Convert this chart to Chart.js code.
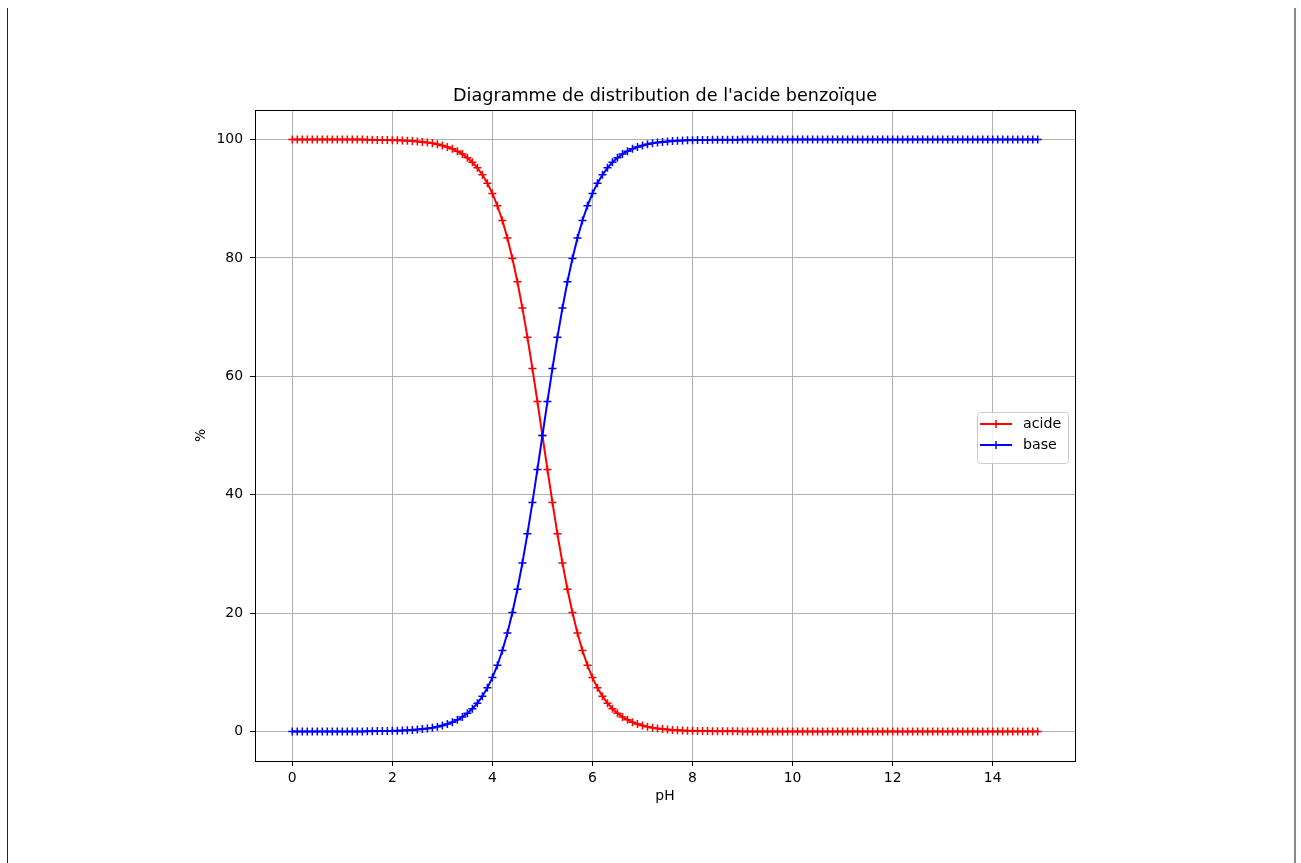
<!DOCTYPE html>
<html>
<head>
<meta charset="utf-8">
<script src="https://cdn.jsdelivr.net/npm/chart.js@4.4.0/dist/chart.umd.min.js"></script>
<style>
    body { margin: 0; background: #fff; }
    #wrap { position: relative; width: 1301px; height: 863px; overflow: hidden; }
    .edge-left { position: absolute; left: 7px; top: 8px; width: 1px; height: 855px; background: #222; }
    .edge-right { position: absolute; left: 1294px; top: 8px; width: 2px; height: 855px; background: #888; }
    canvas { position: absolute; left: 0; top: 0; }
</style>
</head>
<body>
<div id="wrap">
    <div class="edge-left"></div>
    <div class="edge-right"></div>
    <canvas id="chart" width="1301" height="863"></canvas>
</div>
<script>
const phValues = [
    0.0, 0.1, 0.2, 0.3, 0.4, 0.5, 0.6, 0.7, 0.8, 0.9,
    1.0, 1.1, 1.2, 1.3, 1.4, 1.5, 1.6, 1.7, 1.8, 1.9,
    2.0, 2.1, 2.2, 2.3, 2.4, 2.5, 2.6, 2.7, 2.8, 2.9,
    3.0, 3.1, 3.2, 3.3, 3.4, 3.5, 3.6, 3.7, 3.8, 3.9,
    4.0, 4.1, 4.2, 4.3, 4.4, 4.5, 4.6, 4.7, 4.8, 4.9,
    5.0, 5.1, 5.2, 5.3, 5.4, 5.5, 5.6, 5.7, 5.8, 5.9,
    6.0, 6.1, 6.2, 6.3, 6.4, 6.5, 6.6, 6.7, 6.8, 6.9,
    7.0, 7.1, 7.2, 7.3, 7.4, 7.5, 7.6, 7.7, 7.8, 7.9,
    8.0, 8.1, 8.2, 8.3, 8.4, 8.5, 8.6, 8.7, 8.8, 8.9,
    9.0, 9.1, 9.2, 9.3, 9.4, 9.5, 9.6, 9.7, 9.8, 9.9,
    10.0, 10.1, 10.2, 10.3, 10.4, 10.5, 10.6, 10.7, 10.8, 10.9,
    11.0, 11.1, 11.2, 11.3, 11.4, 11.5, 11.6, 11.7, 11.8, 11.9,
    12.0, 12.1, 12.2, 12.3, 12.4, 12.5, 12.6, 12.7, 12.8, 12.9,
    13.0, 13.1, 13.2, 13.3, 13.4, 13.5, 13.6, 13.7, 13.8, 13.9,
    14.0, 14.1, 14.2, 14.3, 14.4, 14.5, 14.6, 14.7, 14.8, 14.9
];

const acide = [
    100, 100, 100, 100, 100, 100, 100, 100, 100, 100,
    100, 100, 100, 100, 100, 99.97, 99.96, 99.95, 99.94, 99.92,
    99.90, 99.87, 99.84, 99.80, 99.75, 99.68, 99.60, 99.50, 99.37, 99.21,
    99.01, 98.76, 98.44, 98.04, 97.55, 96.93, 96.17, 95.23, 94.06, 92.64,
    90.91, 88.82, 86.32, 83.37, 79.92, 75.97, 71.53, 66.61, 61.31, 55.73,
    50.00, 44.27, 38.69, 33.39, 28.47, 24.03, 20.08, 16.63, 13.68, 11.18,
    9.09, 7.36, 5.94, 4.77, 3.83, 3.07, 2.45, 1.96, 1.56, 1.24,
    0.99, 0.79, 0.63, 0.50, 0.40, 0.32, 0.25, 0.20, 0.16, 0.13,
    0.10, 0.08, 0.06, 0.05, 0.04, 0.03, 0.03, 0.02, 0.02, 0.01,
    0, 0, 0, 0, 0, 0, 0, 0, 0, 0,
    0, 0, 0, 0, 0, 0, 0, 0, 0, 0,
    0, 0, 0, 0, 0, 0, 0, 0, 0, 0,
    0, 0, 0, 0, 0, 0, 0, 0, 0, 0,
    0, 0, 0, 0, 0, 0, 0, 0, 0, 0,
    0, 0, 0, 0, 0, 0, 0, 0, 0, 0
];

const base = [
    0, 0, 0, 0, 0, 0, 0, 0, 0, 0,
    0, 0, 0, 0, 0, 0.03, 0.04, 0.05, 0.06, 0.08,
    0.10, 0.13, 0.16, 0.20, 0.25, 0.32, 0.40, 0.50, 0.63, 0.79,
    0.99, 1.24, 1.56, 1.96, 2.45, 3.07, 3.83, 4.77, 5.94, 7.36,
    9.09, 11.18, 13.68, 16.63, 20.08, 24.03, 28.47, 33.39, 38.69, 44.27,
    50.00, 55.73, 61.31, 66.61, 71.53, 75.97, 79.92, 83.37, 86.32, 88.82,
    90.91, 92.64, 94.06, 95.23, 96.17, 96.93, 97.55, 98.04, 98.44, 98.76,
    99.01, 99.21, 99.37, 99.50, 99.60, 99.68, 99.75, 99.80, 99.84, 99.87,
    99.90, 99.92, 99.94, 99.95, 99.96, 99.97, 99.97, 99.98, 99.98, 99.99,
    100, 100, 100, 100, 100, 100, 100, 100, 100, 100,
    100, 100, 100, 100, 100, 100, 100, 100, 100, 100,
    100, 100, 100, 100, 100, 100, 100, 100, 100, 100,
    100, 100, 100, 100, 100, 100, 100, 100, 100, 100,
    100, 100, 100, 100, 100, 100, 100, 100, 100, 100,
    100, 100, 100, 100, 100, 100, 100, 100, 100, 100
];

const xTicks = [0, 2, 4, 6, 8, 10, 12, 14];
const yTicks = [0, 20, 40, 60, 80, 100];
const titleText = "Diagramme de distribution de l'acide benzoïque";

const FONT = '"DejaVu Sans", sans-serif';
const tickFont = { family: FONT, size: 13.9 };

const toPoints = (ys) => phValues.map((x, i) => ({ x: x, y: ys[i] }));

// spines + title, drawn like matplotlib
const framePlugin = {
    id: 'frame',
    afterDatasetsDraw(chart) {
        const { ctx, chartArea: a } = chart;
        ctx.save();
        ctx.strokeStyle = '#000';
        ctx.lineWidth = 1;
        ctx.strokeRect(a.left + 0.5, a.top + 0.5, a.right - a.left, a.bottom - a.top);
        ctx.restore();
    },
    afterDraw(chart) {
        const { ctx, chartArea: a } = chart;
        ctx.save();
        ctx.fillStyle = '#000';
        ctx.font = '17.6px ' + FONT;
        ctx.textAlign = 'center';
        ctx.textBaseline = 'alphabetic';
        ctx.fillText(titleText, (a.left + a.right) / 2, 101);
        ctx.restore();
    }
};

const legendPlugin = {
    id: 'boxLegend',
    afterDraw(chart) {
        const { ctx } = chart;
        const sets = chart.data.datasets;
        const left = 977, top = 412, w = 91, h = 51;
        ctx.save();
        ctx.beginPath();
        ctx.roundRect(left + 0.5, top + 0.5, w, h, 3);
        ctx.fillStyle = 'rgba(255,255,255,0.8)';
        ctx.fill();
        ctx.strokeStyle = '#cccccc';
        ctx.lineWidth = 1;
        ctx.stroke();
        ctx.font = '14.2px ' + FONT;
        ctx.textBaseline = 'middle';
        ctx.textAlign = 'left';
        sets.forEach((ds, i) => {
            const y = 424 + i * 21;
            ctx.strokeStyle = ds.borderColor;
            ctx.lineWidth = 2;
            ctx.beginPath();
            ctx.moveTo(980, y);
            ctx.lineTo(1012, y);
            ctx.stroke();
            ctx.lineWidth = 1.5;
            ctx.beginPath();
            ctx.moveTo(996, y - 4);
            ctx.lineTo(996, y + 4);
            ctx.stroke();
            ctx.fillStyle = '#000';
            ctx.fillText(ds.label, 1023, y);
        });
        ctx.restore();
    }
};

const chartCanvas = document.getElementById('chart');

new Chart(chartCanvas, {
    type: 'line',
    data: {
        datasets: [
            {
                label: 'acide',
                data: toPoints(acide),
                borderColor: 'red',
                backgroundColor: 'red',
                borderWidth: 2,
                pointStyle: 'cross',
                pointRadius: 4,
                pointBorderWidth: 1.5,
                pointBorderColor: 'red',
                fill: false,
                tension: 0,
                order: 2
            },
            {
                label: 'base',
                data: toPoints(base),
                borderColor: 'blue',
                backgroundColor: 'blue',
                borderWidth: 2,
                pointStyle: 'cross',
                pointRadius: 4,
                pointBorderWidth: 1.5,
                pointBorderColor: 'blue',
                fill: false,
                tension: 0,
                order: 1
            }
        ]
    },
    options: {
        responsive: false,
        animation: false,
        devicePixelRatio: 1,
        layout: { padding: { top: 110, right: 226, bottom: 0, left: 0 } },
        plugins: {
            legend: { display: false },
            title: { display: false },
            tooltip: { enabled: false }
        },
        scales: {
            x: {
                type: 'linear',
                min: -0.745,
                max: 15.645,
                afterBuildTicks: (s) => { s.ticks = xTicks.map(v => ({ value: v })); },
                afterFit: (s) => { s.height = 102; },
                grid: { color: '#b0b0b0', lineWidth: 1, tickLength: 5, tickColor: '#000', tickWidth: 1 },
                border: { display: false },
                ticks: { color: '#000', font: tickFont, padding: 4, maxRotation: 0 },
                title: { display: true, text: 'pH', color: '#000', font: tickFont, padding: { top: 0, bottom: 58 } }
            },
            y: {
                type: 'linear',
                min: -5,
                max: 105,
                afterBuildTicks: (s) => { s.ticks = yTicks.map(v => ({ value: v })); },
                afterFit: (s) => { s.width = 255; },
                grid: { color: '#b0b0b0', lineWidth: 1, tickLength: 5, tickColor: '#000', tickWidth: 1 },
                border: { display: false },
                ticks: { color: '#000', font: tickFont, padding: 7 },
                title: { display: true, text: '%', color: '#000', font: tickFont, padding: { top: 193, bottom: 0 } }
            }
        }
    },
    plugins: [framePlugin, legendPlugin]
});
</script>
</body>
</html>
